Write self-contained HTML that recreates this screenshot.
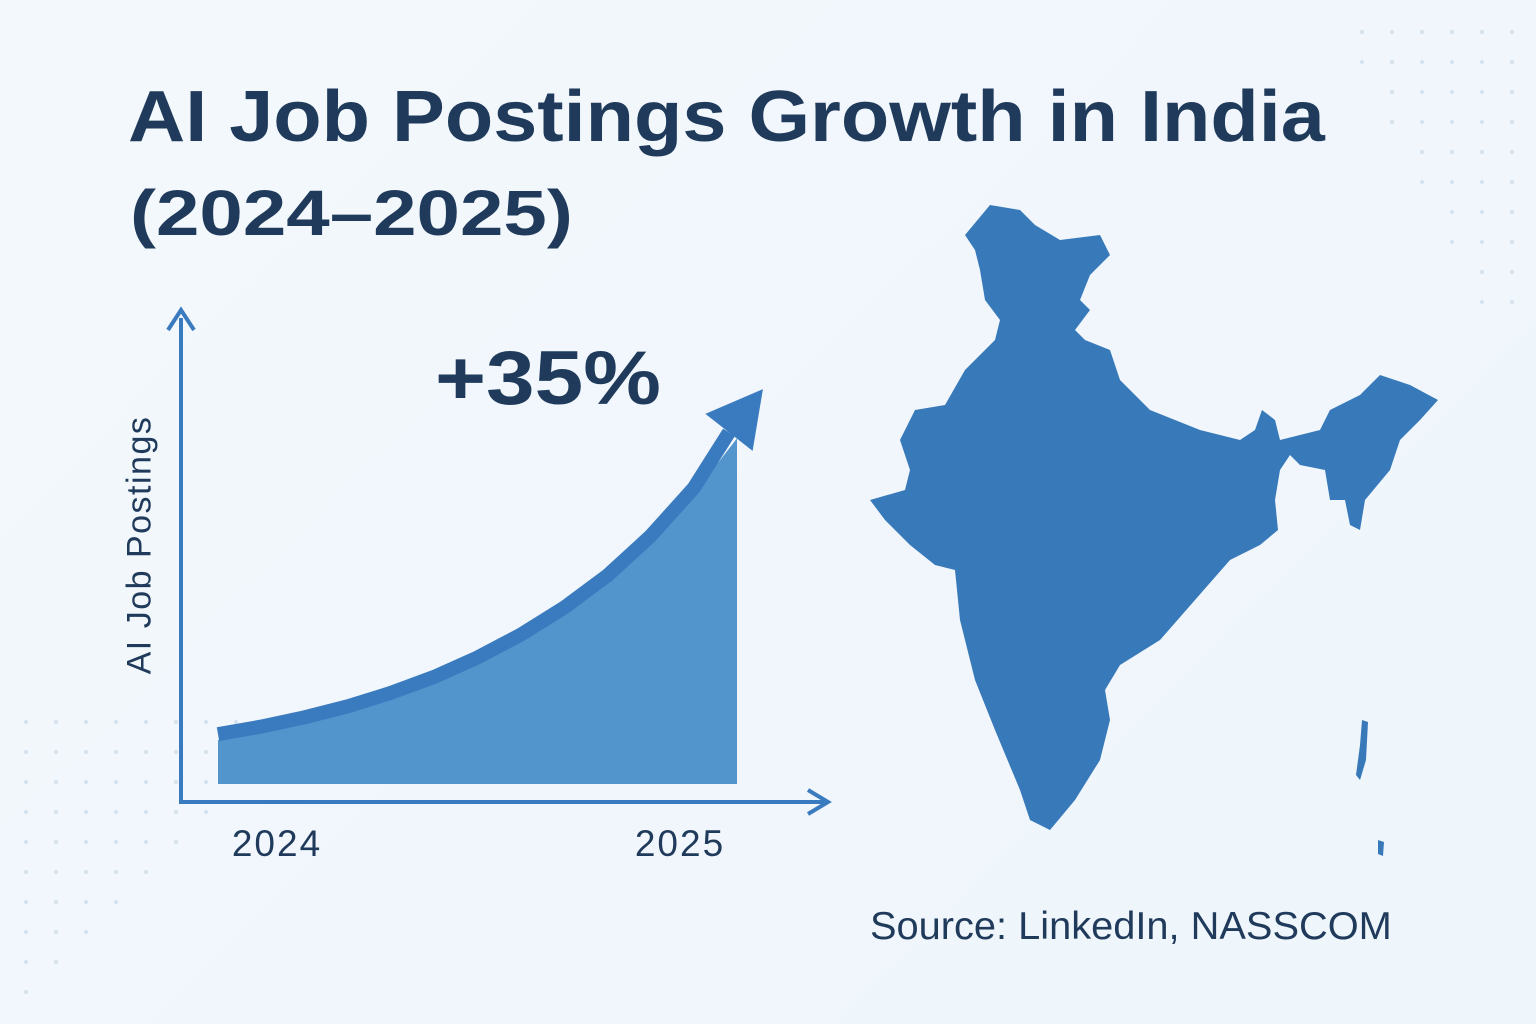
<!DOCTYPE html>
<html><head><meta charset="utf-8">
<style>
html,body{margin:0;padding:0;}
body{width:1536px;height:1024px;background:linear-gradient(135deg,#f3f8fc,#eef5fb);font-family:"Liberation Sans",sans-serif;overflow:hidden;position:relative;}
.t{position:absolute;color:#1f3a5a;white-space:nowrap;transform-origin:0 0;}
</style></head>
<body>
<div class="t" style="left:128px;top:76px;font-size:72px;font-weight:bold;transform:scaleX(1.1);">AI Job Postings Growth in India</div>
<div class="t" style="left:130px;top:176px;font-size:64px;font-weight:bold;transform:scaleX(1.22);">(2024–2025)</div>
<svg id="chart" width="1536" height="1024" style="position:absolute;left:0;top:0">
<g id="dots" fill="#d5e2ee"></g>
<path fill="#3779b9" d="M965,235 L990,205 L1020,210 L1035,225 L1060,240 L1100,235 L1110,255 L1090,275 L1080,300 L1090,310 L1075,330 L1085,340 L1110,350 L1120,380 L1150,410 L1200,430 L1240,440 L1255,430 L1262,410 L1275,420 L1280,440 L1320,430 L1330,410 L1360,395 L1380,375 L1410,385 L1438,400 L1420,420 L1400,440 L1390,470 L1365,500 L1360,530 L1350,525 L1345,500 L1330,500 L1325,470 L1300,465 L1290,455 L1280,470 L1275,500 L1278,530 L1260,545 L1230,560 L1195,600 L1160,640 L1120,665 L1105,690 L1110,720 L1100,760 L1075,800 L1050,830 L1030,820 L1020,790 L995,730 L975,680 L960,620 L955,570 L935,565 L910,545 L885,520 L870,500 L905,490 L910,470 L900,440 L915,410 L945,405 L965,370 L995,340 L1000,320 L985,300 L980,270 L975,250 Z"/>
<path fill="#3779b9" d="M1362,720 L1368,722 L1366,760 L1360,780 L1356,775 L1360,745 Z M1378,840 L1384,842 L1383,856 L1378,854 Z"/>
</svg>
<div class="t" style="left:140px;top:545px;font-size:34px;letter-spacing:1.5px;transform-origin:50% 50%;transform:translate(-50%,-50%) rotate(-90deg);">AI Job Postings</div>
<div class="t" style="left:435px;top:335px;font-size:76px;font-weight:bold;transform:scaleX(1.15);">+35%</div>
<div class="t" style="left:870px;top:905px;font-size:39px;transform:scaleX(1.02);">Source: LinkedIn, NASSCOM</div>
<script>
const months=[0,1,2,3,4,5,6,7,8,9,10,11,12];
const values=[100.0,100.9,102.0,103.3,104.9,106.8,109.1,111.8,115.0,118.8,123.5,129.2,135.8];
const yearLabels=["2024","2025"];
const NS="http://www.w3.org/2000/svg";
const svg=document.getElementById('chart');
const xs=m=>218+m*(737-218)/12;
const ys=v=>784-(v-94.8)*8.43;
function mk(t,a){const e=document.createElementNS(NS,t);for(const k in a)e.setAttribute(k,a[k]);svg.appendChild(e);return e;}
const dg=document.getElementById('dots');
for(let r=0;r<10;r++)for(let c=0;c<10-r;c++){const d=document.createElementNS(NS,'circle');d.setAttribute('cx',26+c*30);d.setAttribute('cy',722+r*30);d.setAttribute('r',2);dg.appendChild(d);}
for(let r=0;r<10;r++)for(let c=0;c<6-Math.floor(r/2);c++){const d=document.createElementNS(NS,'circle');d.setAttribute('cx',1512-c*30);d.setAttribute('cy',32+r*30);d.setAttribute('r',2);dg.appendChild(d);}
let d="M"+xs(0)+","+784;
months.forEach((m,i)=>d+=" L"+xs(m)+","+ys(values[i]));
d+=" L"+xs(12)+",784 Z";
const area=mk('path',{d:d,fill:'#5294cc'});


const n=values.length;
let ld="M"+xs(0)+","+(ys(values[0])-6);
for(let i=1;i<n-1;i++)ld+=" L"+xs(months[i])+","+(ys(values[i])-6);
const lx=xs(months[n-1])-8,ly=ys(values[n-1])-6;
ld+=" L"+lx+","+ly;
const line=mk('path',{d:ld,fill:'none',stroke:'#3a7abf','stroke-width':14,'stroke-linejoin':'round'});


const px=xs(months[n-2]),py=ys(values[n-2])-6;
const ang=Math.atan2(ly-py,lx-px)+0.1;
const tx=lx+Math.cos(ang)*55,ty=ly+Math.sin(ang)*55;
const pa=ang+Math.PI/2;
const head=mk('polygon',{points:`${tx},${ty} ${lx+Math.cos(pa)*30},${ly+Math.sin(pa)*30} ${lx-Math.cos(pa)*30},${ly-Math.sin(pa)*30}`,fill:'#3a7abf'});


const ya=mk('path',{d:'M181,802 L181,318 M168,330 L181,310 L194,330',fill:'none',stroke:'#3a7abf','stroke-width':4});


const xa=mk('path',{d:'M179,802 L826,802 M808,790 L828,802 L808,814',fill:'none',stroke:'#3a7abf','stroke-width':4});


yearLabels.forEach((y,i)=>{const t=mk('text',{x:i?680:277,y:856,'text-anchor':'middle','font-size':37,'letter-spacing':2,fill:'#1f3a5a','font-family':'Liberation Sans'});t.textContent=y;

});
</script>
</body></html>
